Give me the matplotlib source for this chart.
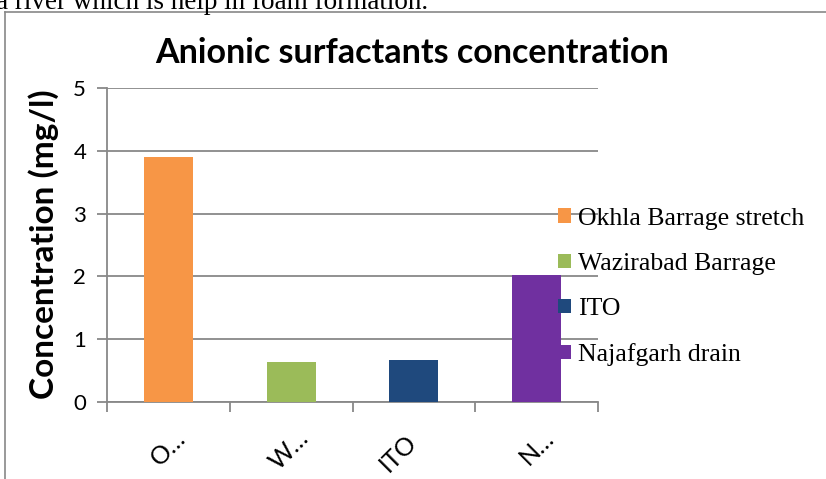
import matplotlib
matplotlib.use("Agg")
import matplotlib.pyplot as plt
from matplotlib.patches import Patch
from matplotlib.transforms import blended_transform_factory, ScaledTranslation

# data
sites = ["Okhla Barrage stretch", "Wazirabad Barrage", "ITO", "Najafgarh drain"]
tick_labels = ["O…", "W…", "ITO", "N…"]
conc = [3.90, 0.64, 0.67, 2.03]
colors = ["#F79646", "#9BBB59", "#1F497D", "#7030A0"]

grid_col = "#888888"

fig = plt.figure(figsize=(8.26, 4.79), dpi=100)

# page bits around the chart (screenshot from a document)
fig.text(-0.005, 1 - 9 / 479, "a river which is help in foam formation.", family="Liberation Serif",
         fontsize=19.5, va="baseline", ha="left")
fig.add_artist(plt.Line2D([5 / 826, 5 / 826], [0, 1 - 12 / 479], color=grid_col, lw=1.2))
fig.add_artist(plt.Line2D([5 / 826, 1], [1 - 12 / 479, 1 - 12 / 479], color=grid_col, lw=1.2))

ax = fig.add_axes([107 / 826, 77 / 479, 491 / 826, 314 / 479])

x = range(len(conc))
ax.bar(x, conc, width=0.4, color=colors, zorder=3)

ax.set_xlim(-0.5, 3.5)
ax.set_ylim(0, 5)
ax.set_yticks([0, 1, 2, 3, 4, 5])
ax.set_yticklabels(["0", "1", "2", "3", "4", "5"], family="Lato", fontsize=16)
ax.yaxis.grid(True, color=grid_col, lw=1.3, zorder=1)
ax.set_axisbelow(True)

ax.set_xticks([-0.5, 0.5, 1.5, 2.5, 3.5])
ax.set_xticklabels([])
ax.tick_params(axis="x", length=7, width=1.3, color=grid_col, direction="out")
ax.tick_params(axis="y", length=7, width=1.3, color=grid_col, direction="out", pad=8)

# rotated category labels, top-right corner hung just under each bar
base = blended_transform_factory(ax.transData, ax.transAxes)
for i, lab in enumerate(tick_labels):
    dx = 22 if lab.endswith("…") else 7
    dy = -24 if lab.endswith("…") else -28
    tr = base + ScaledTranslation(dx / 100, dy / 100, fig.dpi_scale_trans)
    ax.text(i, 0, lab, transform=tr, rotation=45, ha="right", va="top",
            family="Lato", fontsize=18, clip_on=False)

for s in ["top", "right"]:
    ax.spines[s].set_visible(False)
for s in ["left", "bottom"]:
    ax.spines[s].set_color(grid_col)
    ax.spines[s].set_linewidth(1.3)

fig.text(412 / 826, 1 - 63 / 479, "Anionic surfactants concentration", family="Lato",
         fontweight="bold", fontsize=24.5, ha="center", va="baseline")
fig.text(44 / 826, 1 - 244 / 479, "Concentration (mg/l)", family="Lato", fontweight="bold",
         fontsize=24, rotation=90, ha="center", va="center")

handles = [Patch(facecolor=c, edgecolor="none") for c in colors]
fig.legend(handles, sites, loc="center left", bbox_to_anchor=(558 / 826, 1 - 287 / 479),
           frameon=False, borderpad=0, borderaxespad=0, handlelength=0.5, handleheight=0.5,
           handletextpad=0.27, labelspacing=0.9,
           prop={"family": "Liberation Serif", "size": 18.5})

fig.savefig("out.png", dpi=100)
